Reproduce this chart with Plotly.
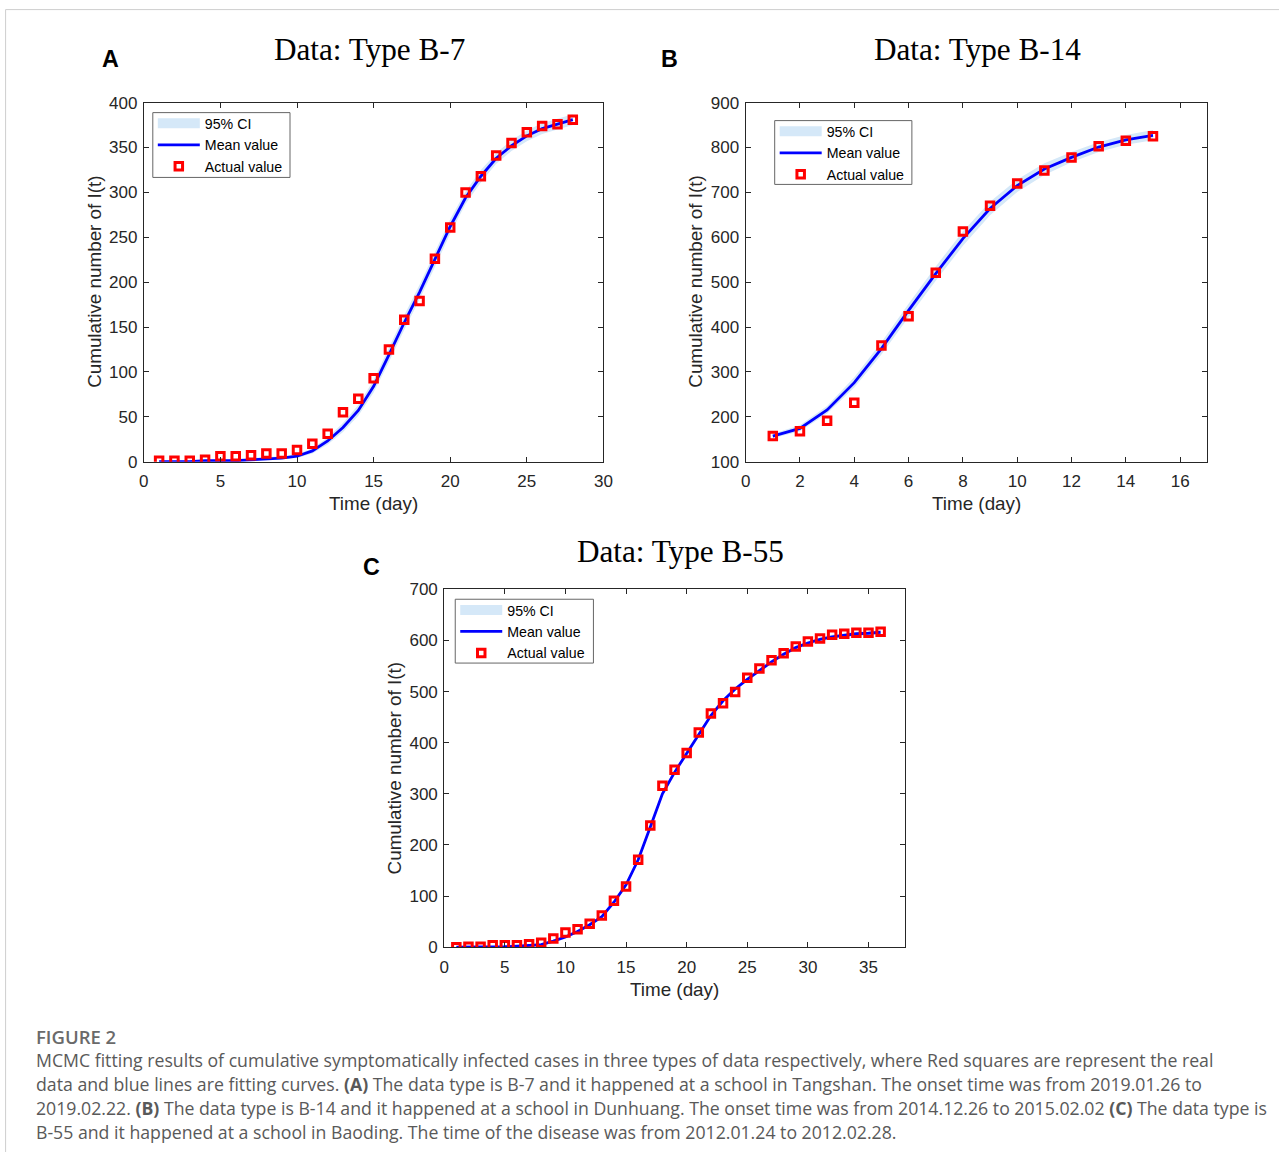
import plotly.graph_objects as go

W, H = 1288, 1162

# ---------------- data ----------------
A_t = list(range(1, 29))
A_actual = [1, 1, 1, 2, 6, 6, 7, 9, 9, 13, 20, 31, 55, 70, 93, 125, 158, 179, 226, 261,
            300, 318, 341, 355, 367, 374, 376, 381]
A_mean = [0, 0, 0, 1, 1, 1, 2, 3, 4, 6, 12, 23, 38, 57, 84, 119, 155, 189, 225, 262,
          294, 318, 338, 352, 363, 371, 376, 381]
A_ci_lo = [0, 0, 0, 0, 0, 0, 1, 2, 3, 4, 9, 19, 33, 51, 77, 111, 147, 181, 217, 254,
           287, 311, 332, 346, 357, 365, 370, 375]
A_ci_hi = [1, 1, 1, 2, 2, 3, 4, 5, 6, 8, 15, 27, 43, 63, 91, 127, 163, 197, 233, 270,
           301, 325, 344, 358, 369, 377, 382, 387]

B_t = list(range(1, 16))
B_actual = [157, 168, 191, 231, 359, 424, 521, 613, 670, 720, 749, 778, 803, 815, 825]
B_mean = [157, 174, 215, 276, 352, 437, 519, 597, 664, 715, 752, 778, 801, 817, 827]
B_ci_lo = [152, 168, 207, 265, 339, 422, 503, 581, 649, 701, 739, 767, 790, 806, 816]
B_ci_hi = [162, 181, 224, 288, 366, 452, 535, 613, 679, 729, 765, 790, 812, 828, 839]

C_t = list(range(1, 37))
C_actual = [0, 1, 1, 4, 4, 4, 6, 9, 17, 29, 35, 46, 62, 91, 119, 171, 238, 316, 347, 380,
            420, 457, 477, 499, 527, 545, 561, 575, 588, 598, 604, 611, 613, 615, 615, 617]
C_mean = [0, 0, 0, 1, 1, 2, 3, 5, 12, 20, 31, 44, 60, 88, 122, 171, 235, 300, 342, 378,
          416, 453, 482, 505, 524, 541, 558, 573, 586, 595, 602, 607, 610, 613, 614, 616]
C_ci_lo = [0, 0, 0, 0, 0, 0, 1, 3, 9, 17, 28, 41, 57, 84, 118, 166, 230, 295, 338, 374,
           412, 449, 478, 501, 520, 537, 554, 569, 582, 591, 598, 603, 606, 609, 610, 612]
C_ci_hi = [1, 1, 1, 2, 2, 3, 5, 7, 15, 23, 34, 47, 63, 92, 126, 176, 240, 305, 346, 382,
           420, 457, 486, 509, 528, 545, 562, 577, 590, 599, 606, 611, 614, 617, 618, 620]

titles = ["Data: Type B-7", "Data: Type B-14", "Data: Type B-55"]
letters = ["A", "B", "C"]
legend_names = ["95% CI", "Mean value", "Actual value"]
x_label = "Time (day)"
y_label = "Cumulative number of I(t)"

caption_head = "FIGURE 2"
caption_lines = [
    "MCMC fitting results of cumulative symptomatically infected cases in three types of data respectively, where Red squares are represent the real",
    "data and blue lines are fitting curves. <b>(A)</b> The data type is B-7 and it happened at a school in Tangshan. The onset time was from 2019.01.26 to",
    "2019.02.22. <b>(B)</b> The data type is B-14 and it happened at a school in Dunhuang. The onset time was from 2014.12.26 to 2015.02.02 <b>(C)</b> The data type is",
    "B-55 and it happened at a school in Baoding. The time of the disease was from 2012.01.24 to 2012.02.28.",
]

# ---------------- geometry helpers (target picture px -> paper) ----------------
SX, SY = 1304 / 1288, 1178 / 1162
K = (SX + SY) / 2


def fx(r):
    return ((r + 1.5) * SX - 8) / W


def fy(r):
    return 1 - ((r + 0.8) * SY - 8) / H


def fs(s):
    return s * K


panels = [
    dict(px=(145, 604), py=(101, 461), xr=[0, 30], xd=5, yr=[0, 400], yd=50,
         box=(154, 111, 291, 176), row1=123, textx=204, title=(370, 48), letter=(112, 57)),
    dict(px=(746, 1207), py=(101, 461), xr=[0, 17], xd=2, yr=[100, 900], yd=100,
         box=(775, 119, 912, 183), row1=131, textx=825, title=(978, 48), letter=(670, 57)),
    dict(px=(445, 905), py=(589, 948), xr=[0, 38], xd=5, yr=[0, 700], yd=100,
         box=(456, 599, 594, 663), row1=611, textx=506, title=(681, 551), letter=(372, 567)),
]
datasets = [
    (A_t, A_actual, A_mean, A_ci_lo, A_ci_hi),
    (B_t, B_actual, B_mean, B_ci_lo, B_ci_hi),
    (C_t, C_actual, C_mean, C_ci_lo, C_ci_hi),
]

SANS = "Liberation Sans, Arial, sans-serif"
SERIF = "Liberation Serif, Times New Roman, serif"
AX = "#262626"
CI_COLOR = "#D5E8F8"

fig = go.Figure()
annotations = []
shapes = []
layout = {}

for i, (p, d) in enumerate(zip(panels, datasets)):
    t, act, mean, lo, hi = d
    sfx = "" if i == 0 else str(i + 1)
    xa, ya = "x" + sfx, "y" + sfx
    leg = "legend" + sfx
    fig.add_trace(go.Scatter(
        x=t + t[::-1], y=hi + lo[::-1], fill="toself", mode="lines",
        line=dict(width=0, color="rgba(0,0,0,0)"), fillcolor=CI_COLOR,
        name=legend_names[0], showlegend=False, xaxis=xa, yaxis=ya, hoverinfo="skip"))
    fig.add_trace(go.Scatter(
        x=[None], y=[None], mode="lines", line=dict(color=CI_COLOR, width=10),
        name=legend_names[0], xaxis=xa, yaxis=ya, legend=leg))
    fig.add_trace(go.Scatter(
        x=t, y=mean, mode="lines", line=dict(color="#0000FF", width=2.8),
        name=legend_names[1], xaxis=xa, yaxis=ya, legend=leg))
    fig.add_trace(go.Scatter(
        x=t, y=act, mode="markers",
        marker=dict(symbol="square-open", size=7.5, color="#FF0000",
                    line=dict(width=3, color="#FF0000")),
        name=legend_names[2], xaxis=xa, yaxis=ya, legend=leg))

    x0, x1 = p["px"]
    yt, yb = p["py"]
    common = dict(showline=True, linecolor=AX, linewidth=1, mirror="ticks", ticks="inside",
                  ticklen=5, tickcolor=AX, showgrid=False, zeroline=False,
                  tickfont=dict(family=SANS, size=fs(16.8), color=AX))
    layout["xaxis" + sfx] = dict(domain=[fx(x0), fx(x1)], range=p["xr"], dtick=p["xd"], tick0=0,
                                 anchor=ya, ticklabelstandoff=4, **common)
    layout["yaxis" + sfx] = dict(domain=[fy(yb), fy(yt)], range=p["yr"], dtick=p["yd"],
                                 tick0=0, anchor=xa, ticklabelstandoff=2, **common)
    bx0, by0, bx1, by1 = p["box"]
    # legend frame
    shapes.append(dict(type="rect", xref="paper", yref="paper", x0=fx(bx0), x1=fx(bx1),
                       y0=fy(by1), y1=fy(by0), fillcolor="white", layer="above",
                       line=dict(color="#666666", width=1)))
    layout[leg] = dict(x=fx(p["textx"] - 50), y=fy(p["row1"] - 17), xanchor="left", yanchor="top",
                       bgcolor="rgba(0,0,0,0)", bordercolor="rgba(0,0,0,0)", borderwidth=0,
                       font=dict(family=SANS, size=14.2, color="black"),
                       tracegroupgap=0, itemwidth=42)

    tx, ty = p["title"]
    annotations.append(dict(text=titles[i], x=fx(tx), y=fy(ty), xref="paper", yref="paper",
                            showarrow=False, xanchor="center", yanchor="middle",
                            font=dict(family=SERIF, size=fs(30.8), color="black")))
    lx2, ly2 = p["letter"]
    annotations.append(dict(text="<b>" + letters[i] + "</b>", x=fx(lx2), y=fy(ly2),
                            xref="paper", yref="paper", showarrow=False,
                            xanchor="center", yanchor="middle",
                            font=dict(family=SANS, size=fs(23), color="black")))
    annotations.append(dict(text=x_label, x=fx((x0 + x1) / 2), y=fy(yb + 42),
                            xref="paper", yref="paper", showarrow=False,
                            xanchor="center", yanchor="middle",
                            font=dict(family=SANS, size=fs(18.6), color=AX)))
    annotations.append(dict(text=y_label, x=fx(x0 - 50), y=fy((yt + yb) / 2),
                            xref="paper", yref="paper", showarrow=False, textangle=-90,
                            xanchor="center", yanchor="middle",
                            font=dict(family=SANS, size=fs(18.6), color=AX)))

# caption
CAP = "Open Sans, Noto Sans, sans-serif"
annotations.append(dict(text=caption_head, x=fx(35), y=fy(1037), xref="paper", yref="paper",
                        showarrow=False, xanchor="left", yanchor="middle",
                        font=dict(family=CAP, size=18.5, color="#6a6a6a", weight=600)))
for k, line in enumerate(caption_lines):
    annotations.append(dict(text=line, x=fx(35), y=fy(1061 + 24 * k), xref="paper",
                            yref="paper", showarrow=False, xanchor="left", yanchor="middle",
                            font=dict(family=CAP, size=17.7, color="#595959")))

# light page border (top & left)
shapes.append(dict(type="line", xref="paper", yref="paper", x0=0.6 / W, x1=1.0,
                   y0=1 - 0.6 / H, y1=1 - 0.6 / H, line=dict(color="#cfcfcf", width=1)))
shapes.append(dict(type="line", xref="paper", yref="paper", x0=0.6 / W, x1=0.6 / W,
                   y0=0, y1=1 - 0.6 / H, line=dict(color="#cfcfcf", width=1)))

fig.update_layout(
    width=W, height=H, margin=dict(l=0, r=0, t=0, b=0),
    paper_bgcolor="white", plot_bgcolor="white",
    annotations=annotations, shapes=shapes, showlegend=True,
    **layout,
)

fig.write_html("out.html", config={"displayModeBar": False},
               post_script="document.body.style.margin='0';document.body.style.overflow='hidden';")
